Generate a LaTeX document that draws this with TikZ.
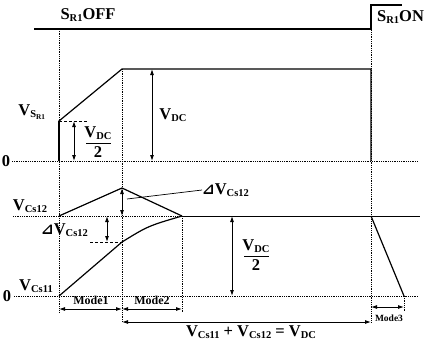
\documentclass[tikz,border=0pt]{standalone}
\usepackage{fontspec}
\setmainfont{Liberation Serif}
\newfontfamily\symfnt{DejaVu Sans}
\usetikzlibrary{arrows.meta}
\newcommand{\sbx}[1]{\raisebox{-2.5pt}{\fontsize{10.5}{10.5}\selectfont #1}}
\newcommand{\tri}{{\symfnt\fontsize{15}{15}\selectfont ⊿}}
\tikzset{
  wave/.style={line width=1.2pt},
  guide/.style={line width=0.8pt, densely dotted},
  dim/.style={line width=0.9pt, {Latex[length=6pt,width=4pt]}-{Latex[length=6pt,width=4pt]}},
  lbl/.style={font=\fontsize{16.5}{16.5}\selectfont\bfseries, inner sep=0pt},
  mlbl/.style={font=\fontsize{12}{12}\selectfont\bfseries, inner sep=0pt},
  fracbar/.style={line width=1pt},
}
\begin{document}
\begin{tikzpicture}[x=1pt,y=-1pt]
\useasboundingbox (0,0) rectangle (430,341);
% coordinates
\coordinate (g0) at (34,29);
\coordinate (g1) at (371,29);
\coordinate (g2) at (371,5);
\coordinate (g3) at (402,5);
\coordinate (a0) at (59,161);
\coordinate (a1) at (59,121);
\coordinate (a2) at (122,69);
\coordinate (a3) at (371,69);
\coordinate (a4) at (371,161);
\coordinate (c0) at (59,216);
\coordinate (c1) at (122,188);
\coordinate (c2) at (182,216);
\coordinate (c3) at (371,216);
\coordinate (c4) at (404,296);
\coordinate (d0) at (59,296);
\coordinate (d1) at (122,242);
% gate signal
\draw[wave] (g0) -- (g1) -- (g2) -- (g3);
\node[lbl] (soff) at (88,15) {S\sbx{R1}OFF};
\node[lbl, anchor=west] (son) at (377,17) {S\sbx{R1}ON};
% guides
\coordinate (v1t) at (59,29);  \coordinate (v1b) at (59,312);
\coordinate (v2t) at (122,69); \coordinate (v2b) at (122,322);
\coordinate (v3t) at (182,216);\coordinate (v3b) at (182,312);
\coordinate (v4t) at (371,5);  \coordinate (v4b) at (371,322);
\coordinate (v5t) at (404,296);\coordinate (v5b) at (404,312);
\draw[guide] (v1t) -- (v1b);
\draw[guide] (v2t) -- (v2b);
\draw[guide] (v3t) -- (v3b);
\draw[guide] (v4t) -- (v4b);
\draw[guide] (v5t) -- (v5b);
\coordinate (h0l) at (12,161); \coordinate (h0r) at (418,161);
\coordinate (h1l) at (14,296); \coordinate (h1r) at (418,296);
\coordinate (h2l) at (13,216);
\coordinate (h2r) at (420,216);
\draw[guide] (h0l) -- (h0r);
\draw[guide] (h1l) -- (h1r);
\draw[guide] (h2l) -- (c2);
\draw[line width=1pt] (c2) -- (h2r);
% V_SR1 waveform
\draw[wave] (a0) -- (a1) -- (a2) -- (a3) -- (a4);
\draw[line width=1.8pt] (a0) -- (a1);
\coordinate (e1) at (88,121);
\draw[line width=0.8pt, densely dashed] (a1) -- (e1);
\coordinate (p1t) at (74,121); \coordinate (p1b) at (74,161);
\draw[dim] (p1t) -- (p1b);
\node[lbl] (fn1) at (98,133) {V\sbx{DC}};
\node[lbl] (fd1) at (98,152) {2};
\coordinate (fb1l) at (86,143); \coordinate (fb1r) at (111,143);
\draw[fracbar] (fb1l) -- (fb1r);
\coordinate (p2t) at (152,69); \coordinate (p2b) at (152,161);
\draw[dim] (p2t) -- (p2b);
\node[lbl] (vdc) at (173,115) {V\sbx{DC}};
\node[lbl] (vsr) at (32,112) {V\sbx{S\textsubscript{R1}}};
\node[lbl] (z1) at (6,161) {0};
% Cs waveforms
\draw[wave] (c0) -- (c1) -- (c2);
\draw[wave] (c3) -- (c4);
\draw[wave] (d0) -- (d1) .. controls (148,226) .. (c2);
\coordinate (e2) at (90,242);
\draw[line width=0.8pt, densely dashed] (e2) -- (d1);
\coordinate (p3t) at (107,216); \coordinate (p3b) at (107,242);
\draw[dim] (p3t) -- (p3b);
\node[lbl, anchor=west] (dv1) at (41,230) {\tri V\sbx{Cs12}};
\coordinate (p4t) at (122,188); \coordinate (p4b) at (122,216);
\draw[dim] (p4t) -- (p4b);
\node[lbl, anchor=west] (dv2) at (202,190) {\tri V\sbx{Cs12}};
\coordinate (ld) at (127,199);
\draw[line width=0.7pt] (ld) -- (dv2.west);
\coordinate (p5t) at (232,216); \coordinate (p5b) at (232,296);
\draw[dim] (p5t) -- (p5b);
\node[lbl] (fn2) at (256,246) {V\sbx{DC}};
\node[lbl] (fd2) at (256,265) {2};
\coordinate (fb2l) at (244,256); \coordinate (fb2r) at (269,256);
\draw[fracbar] (fb2l) -- (fb2r);
\node[lbl] (vcs12) at (30,206) {V\sbx{Cs12}};
\node[lbl] (vcs11) at (36,286) {V\sbx{Cs11}};
\node[lbl] (z2) at (7,296) {0};
% modes
\coordinate (m1l) at (59,309); \coordinate (m1r) at (122,309);
\coordinate (m2r) at (182,309);
\draw[dim] (m1l) -- (m1r);
\draw[dim] (m1r) -- (m2r);
\node[mlbl] (mode1) at (91,300) {Mode1};
\node[mlbl] (mode2) at (152,300) {Mode2};
\coordinate (m3l) at (371,307); \coordinate (m3r) at (404,307);
\draw[dim] (m3l) -- (m3r);
\node[mlbl, font=\fontsize{9.5}{9.5}\selectfont\bfseries] (mode3) at (389,318) {Mode3};
\coordinate (s1) at (122,322); \coordinate (s2) at (371,322);
\draw[dim] (s1) -- (s2);
\node[lbl] (sum) at (251,332) {V\sbx{Cs11} + V\sbx{Cs12} = V\sbx{DC}};
\end{tikzpicture}
\end{document}
